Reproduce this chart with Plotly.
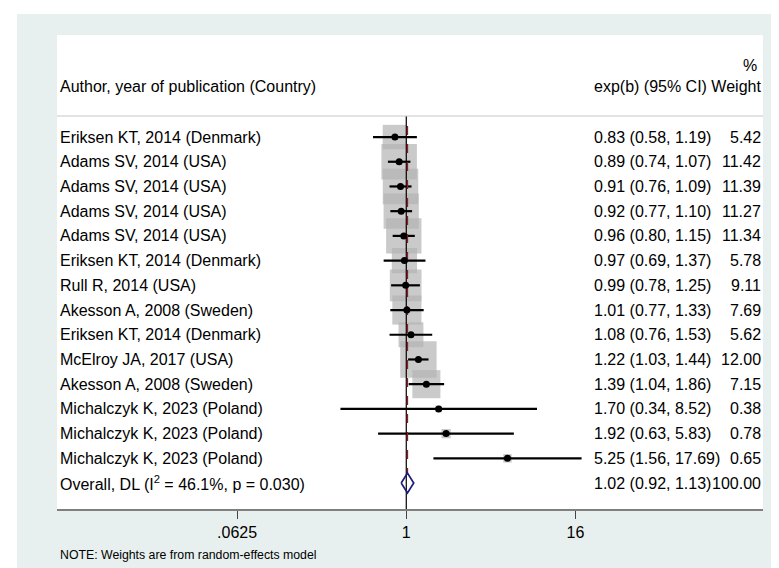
import plotly.graph_objects as go

# ---------------- data ----------------
study_labels = [
    "Eriksen KT, 2014 (Denmark)",
    "Adams SV, 2014 (USA)",
    "Adams SV, 2014 (USA)",
    "Adams SV, 2014 (USA)",
    "Adams SV, 2014 (USA)",
    "Eriksen KT, 2014 (Denmark)",
    "Rull R, 2014 (USA)",
    "Akesson A, 2008 (Sweden)",
    "Eriksen KT, 2014 (Denmark)",
    "McElroy JA, 2017 (USA)",
    "Akesson A, 2008 (Sweden)",
    "Michalczyk K, 2023 (Poland)",
    "Michalczyk K, 2023 (Poland)",
    "Michalczyk K, 2023 (Poland)",
]
est = [0.83, 0.89, 0.91, 0.92, 0.96, 0.97, 0.99, 1.01, 1.08, 1.22, 1.39, 1.70, 1.92, 5.25]
ci_low = [0.58, 0.74, 0.76, 0.77, 0.80, 0.69, 0.78, 0.77, 0.76, 1.03, 1.04, 0.34, 0.63, 1.56]
ci_high = [1.19, 1.07, 1.09, 1.10, 1.15, 1.37, 1.25, 1.33, 1.53, 1.44, 1.86, 8.52, 5.83, 17.69]
weights = [5.42, 11.42, 11.39, 11.27, 11.34, 5.78, 9.11, 7.69, 5.62, 12.00, 7.15, 0.38, 0.78, 0.65]

overall_label = "Overall, DL (I<sup>2</sup> = 46.1%, p = 0.030)"
overall_est = 1.02
overall_low = 0.92
overall_high = 1.13
overall_weight = 100.00

tick_values = [0.0625, 1, 16]
tick_labels = [".0625", "1", "16"]

header_study = "Author, year of publication (Country)"
header_est_weight = "exp(b) (95% CI) Weight"
header_pct = "%"
note_text = "NOTE: Weights are from random-effects model"

# ---------------- styling / layout constants ----------------
FONT = "Liberation Sans, Arial, sans-serif"
FS = 16
BG = "#e8f0ef"
W, H = 779, 568
ML, MR, MT, MB = 49, 24, 27, 67
PW = W - ML - MR
PH = H - MT - MB

n = len(est)
rows = list(range(1, n + 1))
overall_row = n + 1

def px_x(p):
    return (p - ML) / PW

def px_y(p):
    return (H - MB - p) / PH

fig = go.Figure()

# weight boxes
box_k = 10.5
fig.add_trace(go.Scatter(
    x=est, y=rows, mode="markers",
    marker=dict(symbol="square", color="#b3b3b3",
                size=[box_k * w ** 0.5 for w in weights], line=dict(width=0)),
    hoverinfo="skip", showlegend=False))

# confidence intervals
cx, cy = [], []
for r, lo, hi in zip(rows, ci_low, ci_high):
    cx += [lo, hi, None]
    cy += [r, r, None]
fig.add_trace(go.Scatter(x=cx, y=cy, mode="lines",
                         line=dict(color="black", width=2.2),
                         hoverinfo="skip", showlegend=False))

# null line
fig.add_trace(go.Scatter(x=[1, 1], y=[0.15, 16.2], mode="lines",
                         line=dict(color="black", width=1.2),
                         hoverinfo="skip", showlegend=False))

# overall effect dashed line
fig.add_trace(go.Scatter(x=[overall_est, overall_est], y=[0.55, overall_row - 0.4],
                         mode="lines",
                         line=dict(color="#8e1b2c", width=1.3, dash="dash"),
                         hoverinfo="skip", showlegend=False))

# point estimates
fig.add_trace(go.Scatter(x=est, y=rows, mode="markers",
                         marker=dict(symbol="circle", color="black", size=7),
                         hoverinfo="skip", showlegend=False))

# diamond
dh = 0.4
fig.add_trace(go.Scatter(
    x=[overall_low, overall_est, overall_high, overall_est, overall_low],
    y=[overall_row, overall_row - dh, overall_row, overall_row + dh, overall_row],
    mode="lines", line=dict(color="#1c1c7c", width=1.7),
    hoverinfo="skip", showlegend=False))

annotations = []
def txt(x, y, s, anchor="left", size=FS, yref="y"):
    annotations.append(dict(x=x, y=y, xref="paper", yref=yref, text=s,
                            showarrow=False, xanchor=anchor, yanchor="middle",
                            borderpad=0, borderwidth=0,
                            font=dict(family=FONT, size=size, color="black")))

x_label = px_x(52)
x_est = px_x(586)
x_wt = px_x(753)

for r, lab, e, lo, hi, w in zip(rows, study_labels, est, ci_low, ci_high, weights):
    txt(x_label, r, lab)
    txt(x_est, r, f"{e:.2f} ({lo:.2f}, {hi:.2f})")
    txt(x_wt, r, f"{w:.2f}", anchor="right")

txt(x_label, overall_row, overall_label)
txt(x_est, overall_row, f"{overall_est:.2f} ({overall_low:.2f}, {overall_high:.2f})")
txt(x_wt, overall_row, f"{overall_weight:.2f}", anchor="right")

# headers
txt(x_label, -1.06, header_study)
txt(x_wt, -1.06, header_est_weight, anchor="right")
txt(px_x(749), -1.9, header_pct, anchor="right")

# note
txt(x_label, px_y(547), note_text, size=12.3, yref="paper")

shapes = [
    # header separator
    dict(type="line", xref="paper", yref="y", x0=0, x1=1, y0=0.15, y1=0.15,
         line=dict(color="#c8c8c8", width=1)),
    # white strips at top and left of the image
    dict(type="rect", xref="paper", yref="paper", layer="below",
         x0=px_x(-5), x1=px_x(W + 5), y0=px_y(6), y1=px_y(-5),
         fillcolor="white", line=dict(width=0)),
    dict(type="rect", xref="paper", yref="paper", layer="below",
         x0=px_x(-5), x1=px_x(9), y0=px_y(H + 5), y1=px_y(-5),
         fillcolor="white", line=dict(width=0)),
]

fig.update_layout(
    width=W, height=H,
    margin=dict(l=ML, r=MR, t=MT, b=MB),
    paper_bgcolor=BG, plot_bgcolor="white",
    showlegend=False,
    annotations=annotations, shapes=shapes,
    xaxis=dict(type="log", range=[-2.486, 2.539],
               tickvals=tick_values, ticktext=tick_labels,
               showgrid=False, zeroline=False,
               showline=True, linecolor="#7f7f7f", linewidth=2,
               ticks="outside", ticklen=8, tickwidth=1, tickcolor="#444",
               tickfont=dict(family=FONT, size=FS, color="black"),
               fixedrange=True),
    yaxis=dict(range=[16.05, -3.128], visible=False, fixedrange=True),
    font=dict(family=FONT, size=FS, color="black"),
)

fig.write_html("out.html")
